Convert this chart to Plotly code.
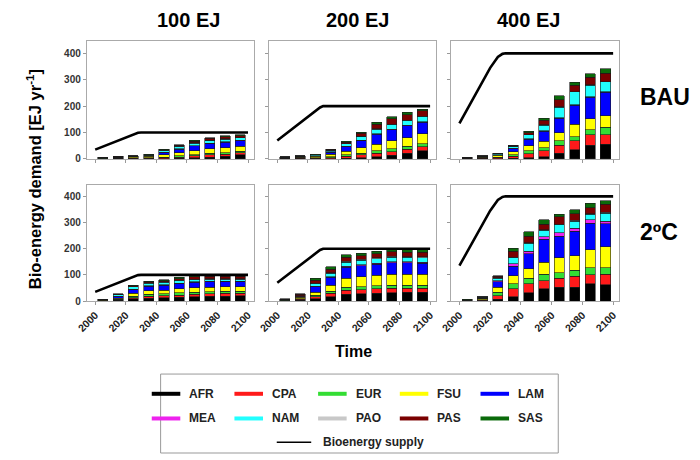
import plotly.graph_objects as go

# ---------------- data ----------------
regions = ["AFR", "CPA", "EUR", "FSU", "LAM", "MEA", "NAM", "PAO", "PAS", "SAS"]
region_colors = ["#000000", "#ff1a1a", "#33dd33", "#ffff00", "#0000ff",
                 "#ee22ee", "#22ffff", "#c8c8c8", "#7a0000", "#0a6a0a"]

bar_years = [2005, 2015, 2025, 2035, 2045, 2055, 2065, 2075, 2085, 2095]
supply_years = [2000, 2010, 2020, 2025, 2028, 2030, 2040, 2050, 2060, 2070, 2080, 2090, 2100]
x_tick_labels = [2000, 2020, 2040, 2060, 2080, 2100]
y_tick_labels = [0, 100, 200, 300, 400]

# each row = one bar (time step), columns in the order of `regions`
bau_100 = [
    [1, 0.5, 0.7, 1.5, 0.5, 0.1, 0.8, 0.3, 0.3, 0.3],
    [1, 1, 1.2, 3, 0.8, 0.2, 1.3, 0.5, 0.5, 0.5],
    [1, 1, 1.5, 4, 1, 0.3, 1.5, 0.5, 0.6, 0.6],
    [1, 1.5, 2, 5, 2, 0.3, 2.5, 0.5, 1, 1.2],
    [1, 3, 3, 8, 9, 0.5, 7, 0.5, 3, 2],
    [2, 5, 4, 12, 14, 1, 8, 1, 4, 2],
    [4, 7, 5, 15, 18, 1, 10, 1, 6, 3],
    [7, 8, 6, 17, 21, 1, 10, 1, 7, 3],
    [10, 8, 6, 18, 22, 1, 10, 1, 7, 4],
    [15, 8, 6, 18, 22, 1, 10, 1, 6, 4],
]
bau_200 = [
    [1, 0.8, 0.8, 1.7, 0.7, 0.2, 1.3, 0.3, 0.6, 0.6],
    [1, 1.5, 1.5, 3, 1, 0.3, 2, 0.5, 0.7, 0.5],
    [1, 2, 2, 5, 2, 0.3, 2.5, 0.5, 1, 0.7],
    [1, 4, 3, 9, 9, 0.5, 6, 0.5, 3, 1],
    [2, 8, 5, 14, 17, 1, 10, 1, 6, 2],
    [4, 11, 7, 20, 28, 1, 14, 1, 11, 4],
    [8, 13, 9, 26, 38, 2, 17, 2, 16, 7],
    [14, 14, 10, 30, 42, 2, 18, 2, 20, 8],
    [22, 15, 11, 32, 45, 2, 18, 2, 20, 9],
    [30, 16, 12, 37, 43, 2, 20, 2, 20, 6],
]
bau_400 = [
    [0.8, 0.8, 0.8, 1.5, 0.7, 0.2, 1.2, 0.3, 0.4, 0.3],
    [1, 1.5, 1.5, 3, 1, 0.3, 2, 0.5, 0.7, 0.5],
    [1, 3, 3, 7, 2, 0.5, 3, 0.5, 1, 1],
    [2, 8, 5, 12, 12, 1, 7, 1, 3, 1],
    [4, 16, 10, 20, 25, 2, 14, 1, 8, 4],
    [8, 22, 12, 25, 37, 2, 22, 1, 17, 8],
    [21, 30, 17, 32, 54, 2, 40, 1, 28, 15],
    [34, 34, 16, 47, 73, 2, 48, 1, 25, 10],
    [51, 40, 19, 42, 81, 2, 45, 1, 28, 14],
    [56, 35, 28, 45, 88, 2, 38, 1, 32, 16],
]
c2_100 = [
    [1, 0.5, 0.5, 1, 1, 0.2, 1.5, 0.3, 0.5, 0.5],
    [3, 2, 2, 4, 6, 0.5, 6, 0.5, 1, 2],
    [8, 5, 5, 11, 15, 1, 9, 1, 3, 3],
    [11, 7, 7, 14, 18, 1, 10, 1, 4, 3],
    [12, 8, 7, 15, 19, 1, 10, 1, 5, 3],
    [14, 9, 8, 16, 20, 1, 10, 1, 7, 4],
    [16, 10, 8, 17, 21, 1, 9, 1, 9, 4],
    [18, 10, 8, 17, 21, 1, 9, 1, 10, 3],
    [19, 10, 8, 17, 21, 1, 8, 1, 10, 3],
    [20, 10, 8, 17, 20, 1, 8, 1, 10, 3],
]
c2_200 = [
    [1, 1, 0.7, 1.5, 0.8, 0.2, 1.3, 0.3, 0.7, 0.5],
    [3, 3, 2, 6, 3, 0.5, 3, 0.5, 5, 2],
    [8, 8, 6, 12, 20, 2, 10, 2, 12, 7],
    [16, 14, 8, 22, 30, 3, 13, 2, 14, 9],
    [25, 16, 11, 35, 42, 4, 16, 3, 15, 10],
    [28, 16, 11, 38, 42, 4, 17, 3, 14, 10],
    [30, 16, 12, 40, 42, 4, 18, 3, 15, 10],
    [32, 16, 12, 42, 44, 4, 18, 3, 17, 11],
    [33, 16, 12, 42, 43, 4, 17, 3, 17, 12],
    [33, 16, 12, 42, 42, 4, 17, 3, 18, 12],
]
c2_400 = [
    [1, 0.7, 0.5, 1.5, 0.5, 0.2, 0.8, 0.2, 0.3, 0.3],
    [1, 2, 2, 5, 1, 0.5, 2, 0.5, 1.5, 0.5],
    [6, 15, 12, 20, 21, 4, 9, 1, 6, 2],
    [16, 30, 20, 30, 37, 10, 22, 3, 22, 11],
    [31, 35, 21, 37, 56, 10, 30, 3, 25, 16],
    [46, 32, 25, 46, 87, 9, 25, 3, 21, 16],
    [53, 34, 21, 57, 83, 12, 31, 3, 28, 10],
    [53, 42, 22, 56, 93, 12, 27, 3, 25, 15],
    [66, 34, 27, 68, 103, 12, 21, 2, 24, 16],
    [62, 41, 25, 80, 87, 10, 31, 3, 31, 14],
]

supply_100 = [35, 58, 81, 92, 99, 100, 100, 100, 100, 100, 100, 100, 100]
supply_200 = [70, 114, 158, 180, 195, 200, 200, 200, 200, 200, 200, 200, 200]
supply_400 = [135, 240, 345, 386, 398, 400, 400, 400, 400, 400, 400, 400, 400]

col_titles = ["100 EJ", "200 EJ", "400 EJ"]
row_titles = ["BAU", "2ºC"]
y_title = "Bio-energy demand [EJ yr<sup>-1</sup>]"
x_title = "Time"
supply_name = "Bioenergy supply"

# ---------------- figure ----------------
W, H = 700, 460
FONT = "Liberation Sans, Arial, sans-serif"
fig = go.Figure()

panels = [
    [(bau_100, supply_100), (bau_200, supply_200), (bau_400, supply_400)],
    [(c2_100, supply_100), (c2_200, supply_200), (c2_400, supply_400)],
]
col_px = [(77, 247), (262, 432), (447, 618)]
row_px = [(42, 161), (187, 305)]


def px_x(p):
    return p / W


def px_y(p):
    return 1 - p / H


layout_axes = {}
for r in range(2):
    for c in range(3):
        k = r * 3 + c + 1
        sfx = "" if k == 1 else str(k)
        data, supply = panels[r][c]
        for j, reg in enumerate(regions):
            fig.add_trace(go.Bar(
                x=bar_years, y=[row[j] for row in data], name=reg,
                xaxis="x" + sfx, yaxis="y" + sfx, width=6.6,
                marker=dict(color=region_colors[j], line=dict(color="#1a1a1a", width=0.6)),
                showlegend=False,
            ))
        fig.add_trace(go.Scatter(
            x=supply_years, y=supply, mode="lines", name=supply_name,
            xaxis="x" + sfx, yaxis="y" + sfx,
            line=dict(color="black", width=2.6), showlegend=False,
        ))
        layout_axes["xaxis" + sfx] = dict(
            domain=[px_x(col_px[c][0]), px_x(col_px[c][1])],
            anchor="y" + sfx, range=[1994.5, 2104],
            tickvals=x_tick_labels, ticktext=[str(v) for v in x_tick_labels],
            showticklabels=(r == 1), tickangle=-45,
            tickfont=dict(family=FONT, size=10.5, color="#222", weight="bold"),
            showline=True, mirror=True, linecolor="#aaaaaa", linewidth=1,
            ticks="outside", ticklen=3, tickcolor="#999", showgrid=False, zeroline=False,
            fixedrange=True,
        )
        layout_axes["yaxis" + sfx] = dict(
            domain=[px_y(row_px[r][1]), px_y(row_px[r][0])],
            anchor="x" + sfx, range=[0, 445],
            tickvals=y_tick_labels, ticktext=[str(v) for v in y_tick_labels],
            showticklabels=(c == 0),
            tickfont=dict(family=FONT, size=10, color="#333", weight="bold"),
            showline=True, mirror=True, linecolor="#aaaaaa", linewidth=1,
            ticks="outside", ticklen=3, tickcolor="#999", showgrid=False, zeroline=False,
            fixedrange=True,
        )

annotations = []
title_cx = [180, 352, 526]
for c, t in enumerate(col_titles):
    annotations.append(dict(text=t, x=px_x(title_cx[c]), y=px_y(20), xref="paper", yref="paper",
                            xanchor="center", yanchor="middle", showarrow=False,
                            font=dict(family=FONT, size=20, color="black", weight="bold")))
row_cy = [98, 235]
for r, t in enumerate(row_titles):
    annotations.append(dict(text=t, x=px_x(637), y=px_y(row_cy[r]), xref="paper", yref="paper",
                            xanchor="left", yanchor="middle", showarrow=False,
                            font=dict(family=FONT, size=23, color="black", weight="bold")))
annotations.append(dict(text=y_title, x=px_x(23), y=px_y(182), xref="paper", yref="paper",
                        xanchor="center", yanchor="middle", showarrow=False, textangle=-90,
                        font=dict(family=FONT, size=16.5, color="black", weight="bold")))
annotations.append(dict(text=x_title, x=px_x(348), y=px_y(356), xref="paper", yref="paper",
                        xanchor="center", yanchor="middle", showarrow=False,
                        font=dict(family=FONT, size=16, color="black", weight="bold")))

# ---------------- legend (drawn box) ----------------
shapes = [dict(type="rect", xref="paper", yref="paper",
               x0=px_x(152), x1=px_x(556), y0=px_y(459), y1=px_y(379),
               line=dict(color="#999", width=1), fillcolor="white", layer="below")]
leg_cols = [143, 227, 312, 395, 477]
leg_rows = [399, 424]
for j, reg in enumerate(regions):
    rr, cc = divmod(j, 5)
    x0 = leg_cols[cc]
    y = leg_rows[rr]
    shapes.append(dict(type="line", xref="paper", yref="paper",
                       x0=px_x(x0), x1=px_x(x0 + 29), y0=px_y(y), y1=px_y(y),
                       line=dict(color=region_colors[j], width=4)))
    annotations.append(dict(text=reg, x=px_x(x0 + 36), y=px_y(y), xref="paper", yref="paper",
                            xanchor="left", yanchor="middle", showarrow=False,
                            font=dict(family=FONT, size=12, color="#222", weight="bold")))
shapes.append(dict(type="line", xref="paper", yref="paper",
                   x0=px_x(270), x1=px_x(305), y0=px_y(448), y1=px_y(448),
                   line=dict(color="black", width=1.5)))
annotations.append(dict(text=supply_name, x=px_x(315), y=px_y(448), xref="paper", yref="paper",
                        xanchor="left", yanchor="middle", showarrow=False,
                        font=dict(family=FONT, size=12, color="#222", weight="bold")))

fig.update_layout(
    width=W, height=H, margin=dict(l=0, r=0, t=0, b=0),
    paper_bgcolor="white", plot_bgcolor="white",
    barmode="stack", bargap=0.3, showlegend=False,
    annotations=annotations, shapes=shapes,
    **layout_axes,
)

fig.write_html("out.html", config={"displayModeBar": False},
               post_script="document.body.style.margin='0';")
